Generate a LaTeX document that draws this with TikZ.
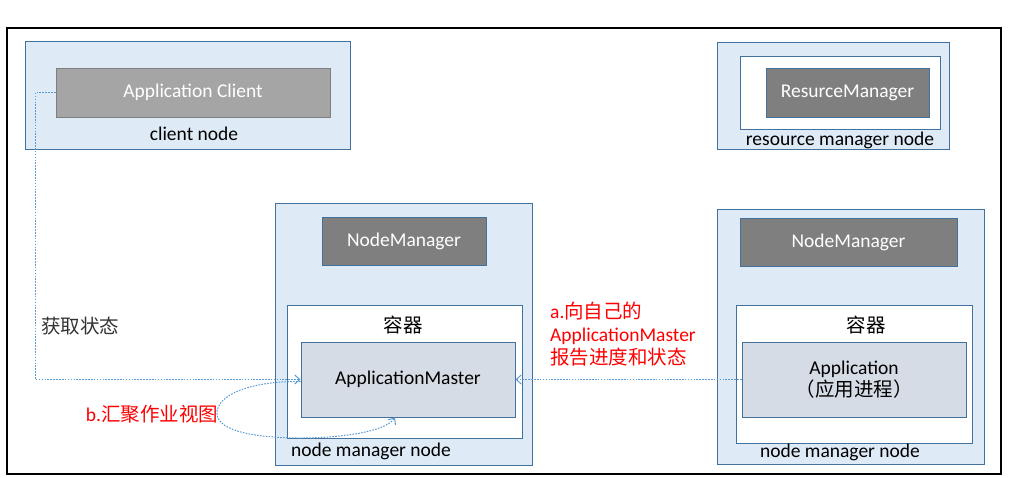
\documentclass[tikz,border=0pt]{standalone}
\usepackage{fontspec}
\setmainfont{Carlito}
\newfontfamily\cjk{Noto Sans CJK SC}
\usetikzlibrary{positioning,arrows.meta,calc}

\definecolor{nodefill}{HTML}{DEEBF7}
\definecolor{nodeline}{HTML}{41719C}
\definecolor{clientfill}{HTML}{A5A5A5}
\definecolor{darkfill}{HTML}{7F7F7F}
\definecolor{amfill}{HTML}{D6DCE5}
\definecolor{flowblue}{HTML}{5B9BD5}

\begin{document}
\begin{tikzpicture}[x=1pt, y=-1pt,
    font=\fontsize{19.5}{23}\selectfont,
    hostbox/.style={
        rectangle,
        draw=nodeline,
        line width=1pt,
        fill=nodefill,
        inner sep=0pt
    },
    whitebox/.style={
        rectangle,
        draw=nodeline,
        line width=1pt,
        fill=white,
        inner sep=0pt
    },
    grayblock/.style={
        rectangle,
        draw=darkfill,
        line width=1pt,
        fill=clientfill,
        text=white,
        inner sep=0pt
    },
    darkblock/.style={
        rectangle,
        draw=nodeline,
        line width=1pt,
        fill=darkfill,
        text=white,
        inner sep=0pt
    },
    procblock/.style={
        rectangle,
        draw=nodeline,
        line width=1pt,
        fill=amfill,
        align=center,
        inner sep=0pt
    },
    redlabel/.style={text=red, align=left, inner sep=0pt},
    flow/.style={-{Straight Barb[open, length=5pt, width=9pt]}, draw=flowblue,
        line width=1pt, dash pattern=on 1.6pt off 1.3pt}]

    \useasboundingbox (0,0) rectangle (1017,477);

    % Outer frame
    \node[draw=black, line width=1.4pt, inner sep=0pt, minimum width=994, minimum height=446]
        (frame) at (504,251) {};

    % Client node
    \node[hostbox, minimum width=325, minimum height=108] (client) at (187.5,95) {};
    \node[grayblock, minimum width=274, minimum height=49] (appclient) at (193,92.5) {Application Client};
    \node (clientlbl) at (194,134) {client node};

    % Resource manager node
    \node[hostbox, minimum width=232, minimum height=107] (rmhost) at (833,95.5) {};
    \node[whitebox, minimum width=200, minimum height=73] (rminner) at (840,92.5) {};
    \node[darkblock, minimum width=163, minimum height=49] (rm) at (847.5,92.5) {ResurceManager};
    \node (rmlbl) at (840,140) {resource manager node};

    % Node manager node (middle)
    \node[hostbox, minimum width=257, minimum height=262] (nmhostA) at (403.5,334) {};
    \node[darkblock, minimum width=164, minimum height=48] (nmA) at (404,241) {NodeManager};
    \node[whitebox, minimum width=235, minimum height=133] (contA) at (404.5,371.5) {};
    \node (contlblA) at (403,325) {\cjk 容器};
    \node[procblock, minimum width=214, minimum height=75] (am) at (408,379.5) {ApplicationMaster};
    \node (nmlblA) at (371,451) {node manager node};

    % Node manager node (right)
    \node[hostbox, minimum width=267, minimum height=255] (nmhostB) at (850.5,336.5) {};
    \node[darkblock, minimum width=217, minimum height=48] (nmB) at (848.5,242) {NodeManager};
    \node[whitebox, minimum width=236, minimum height=138] (contB) at (854,374) {};
    \node (contlblB) at (866,325) {\cjk 容器};
    \node[procblock, minimum width=224, minimum height=75] (app) at (854,379.5) {Application\\[-1pt]{\cjk （应用进程）}};
    \node (nmlblB) at (840,452) {node manager node};

    % Labels
    \node[text=black!80] (getstate) at (80,326) {\cjk 获取状态};
    \node[redlabel, anchor=west] (alabel) at (550,334)
        {a.{\cjk 向自己的}\\ApplicationMaster\\{\cjk 报告进度和状态}};
    \node[redlabel] (blabel) at (152,414) {b.{\cjk 汇聚作业视图}};

    % Connect with arrows
    \draw[flow] (appclient.west) -- ++(-20,0) |- (am.west);
    \draw[flow] (app.west) -- (am.east);
    \draw[flow] ([yshift=-2pt]am.west) .. controls (250,381) and (216,395) .. (217,414)
        .. controls (218,432) and (260,438) .. (300,438)
        .. controls (340,438) and (385,432) .. ($(am.south)+(-13,0)$);
\end{tikzpicture}
\end{document}
